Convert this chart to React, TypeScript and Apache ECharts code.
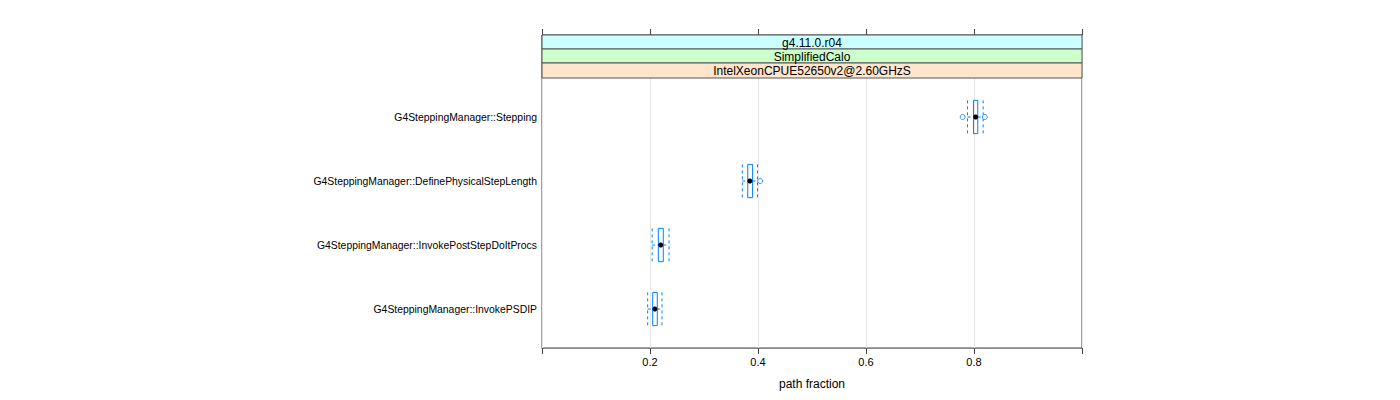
import React, { useEffect, useRef } from "react";
import * as echarts from "echarts";

const categories = [
  "G4SteppingManager::Stepping",
  "G4SteppingManager::DefinePhysicalStepLength",
  "G4SteppingManager::InvokePostStepDoItProcs",
  "G4SteppingManager::InvokePSDIP",
];
// [lowerWhisker, Q1, median, Q3, upperWhisker]
const boxStats = [
  [0.788, 0.799, 0.803, 0.807, 0.817],
  [0.371, 0.381, 0.385, 0.39, 0.399],
  [0.204, 0.2154, 0.2198, 0.2246, 0.2352],
  [0.1957, 0.205, 0.209, 0.2135, 0.2222],
];
const outlierCats = [0, 0, 1];
const outlierValues = [0.779, 0.82, 0.404];
const stripLabels = ["g4.11.0.r04", "SimplifiedCalo", "IntelXeonCPUE52650v2@2.60GHzS"];
const stripColors = ["#ccffff", "#ccffcc", "#ffe5cc"];

const BLUE = "#0080ff";
const FONT = "Liberation Sans";

export default function App() {
  const ref = useRef<HTMLDivElement>(null);
  useEffect(() => {
    if (!ref.current) return;
    const chart = echarts.init(ref.current, undefined, { renderer: "svg" });

    const left = 534, width = 540, frameTop = 27, frameBottom = 340;
    const stripH = [14, 14, 15];
    const stripGraphics: any[] = [];
    let y = frameTop;
    stripLabels.forEach((lab, i) => {
      stripGraphics.push({
        type: "rect",
        z: 100,
        shape: { x: left, y, width, height: stripH[i] },
        style: { fill: stripColors[i], stroke: "#555", lineWidth: 1 },
      });
      stripGraphics.push({
        type: "text",
        z: 101,
        x: left + width / 2,
        y: y + stripH[i] / 2 + 0.5,
        style: {
          text: lab,
          fill: "#000",
          font: `12px "${FONT}"`,
          align: "center",
          verticalAlign: "middle",
        },
      });
      y += stripH[i];
    });

    const boxData = boxStats.map((s, i) => [i, ...s]);
    const outlierData = outlierValues.map((v, i) => [v, outlierCats[i]]);

    chart.setOption({
      animation: false,
      textStyle: { fontFamily: FONT },
      grid: [
        { left, width, top: frameTop, height: frameBottom - frameTop, show: true, borderColor: "#444", borderWidth: 1 },
        { left, width, top: 77, height: 256 },
      ],
      xAxis: [
        {
          gridIndex: 0,
          type: "value",
          min: 0,
          max: 1,
          interval: 0.2,
          position: "bottom",
          axisLine: { show: true, lineStyle: { color: "#888", width: 1 } },
          axisTick: { show: true, length: 6, lineStyle: { color: "#444" } },
          axisLabel: {
            color: "#000",
            fontSize: 11,
            margin: 8,
            fontFamily: FONT,
            formatter: (v: number) => (v > 0.01 && v < 0.99 ? v.toFixed(1) : ""),
          },
          splitLine: { show: true, lineStyle: { color: "#e6e6e6" } },
          name: "path fraction",
          nameLocation: "middle",
          nameGap: 30,
          nameTextStyle: { color: "#000", fontSize: 12, fontFamily: FONT },
        },
        {
          gridIndex: 0,
          type: "value",
          min: 0,
          max: 1,
          interval: 0.2,
          position: "top",
          axisLine: { show: false },
          axisTick: { show: true, length: 6, lineStyle: { color: "#444" } },
          axisLabel: { show: false },
          splitLine: { show: false },
        },
        {
          gridIndex: 1,
          type: "value",
          min: 0,
          max: 1,
          show: false,
        },
      ],
      yAxis: [
        { gridIndex: 0, type: "value", show: false, min: 0, max: 1 },
        {
          gridIndex: 1,
          type: "category",
          data: categories,
          inverse: true,
          axisLine: { show: false },
          axisTick: { show: false },
          splitLine: { show: false },
          axisLabel: { color: "#000", fontSize: 10.4, margin: 5, fontFamily: FONT },
        },
      ],
      series: [
        {
          type: "custom",
          xAxisIndex: 2,
          yAxisIndex: 1,
          encode: { y: 0, x: [1, 2, 3, 4, 5] },
          data: boxData,
          renderItem: (params: any, api: any) => {
            const cat = api.value(0);
            const lw = api.coord([api.value(1), cat]);
            const q1 = api.coord([api.value(2), cat]);
            const md = api.coord([api.value(3), cat]);
            const q3 = api.coord([api.value(4), cat]);
            const uw = api.coord([api.value(5), cat]);
            const band = api.size([0, 1])[1];
            const h = band * 0.52;
            const cy = md[1];
            const dash = { stroke: BLUE, lineWidth: 1, lineDash: [3, 3], fill: null };
            return {
              type: "group",
              children: [
                { type: "line", shape: { x1: lw[0], y1: cy, x2: q1[0], y2: cy }, style: dash },
                { type: "line", shape: { x1: q3[0], y1: cy, x2: uw[0], y2: cy }, style: dash },
                { type: "line", shape: { x1: lw[0], y1: cy - h / 2, x2: lw[0], y2: cy + h / 2 }, style: dash },
                { type: "line", shape: { x1: uw[0], y1: cy - h / 2, x2: uw[0], y2: cy + h / 2 }, style: dash },
                {
                  type: "rect",
                  shape: { x: q1[0], y: cy - h / 2, width: q3[0] - q1[0], height: h },
                  style: { stroke: BLUE, lineWidth: 1, fill: "rgba(255,255,255,0)" },
                },
                { type: "circle", shape: { cx: md[0], cy, r: 2.5 }, style: { fill: "#000" } },
              ],
            };
          },
        },
        {
          type: "scatter",
          xAxisIndex: 2,
          yAxisIndex: 1,
          data: outlierData,
          symbol: "circle",
          symbolSize: 5,
          itemStyle: { color: "#fff", borderColor: BLUE, borderWidth: 1 },
        },
      ],
      graphic: stripGraphics,
    });
    return () => chart.dispose();
  }, []);
  return <div ref={ref} style={{ width: 1400, height: 400 }} />;
}
